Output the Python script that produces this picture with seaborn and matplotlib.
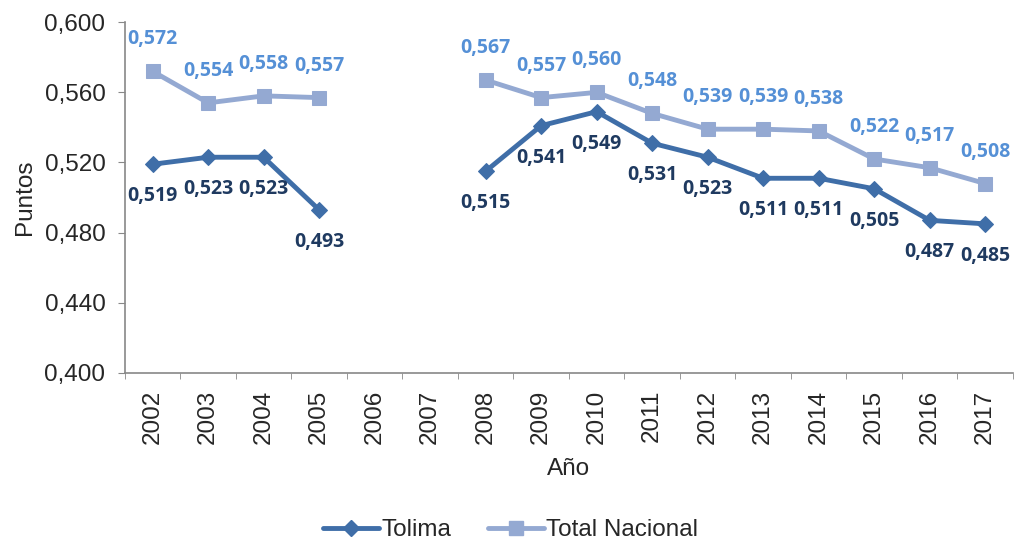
import numpy as np
import pandas as pd
import matplotlib
matplotlib.use("Agg")
import matplotlib.pyplot as plt
import seaborn as sns

# ── Data ──────────────────────────────────────────────
years = [str(y) for y in range(2002, 2018)]
tolima = [0.519, 0.523, 0.523, 0.493, np.nan, np.nan, 0.515, 0.541, 0.549,
          0.531, 0.523, 0.511, 0.511, 0.505, 0.487, 0.485]
nacional = [0.572, 0.554, 0.558, 0.557, np.nan, np.nan, 0.567, 0.557, 0.560,
            0.548, 0.539, 0.539, 0.538, 0.522, 0.517, 0.508]
series_names = ['Tolima', 'Total Nacional']

c_tol, c_nac = '#3F6EA8', '#94A9D2'
c_tol_lbl, c_nac_lbl = '#1F3A60', '#5590D6'

rows = []
for name, vals in zip(series_names, [tolima, nacional]):
    seg = 0
    for i, v in enumerate(vals):
        if np.isnan(v):
            seg += 1
            continue
        rows.append({'pos': i, 'val': v, 'serie': name, 'seg': f'{name}_{seg}'})
df = pd.DataFrame(rows)

sns.set_style('white')
plt.rcParams['font.family'] = ['Liberation Sans', 'DejaVu Sans']

fig = plt.figure(figsize=(10.15, 5.42), dpi=100)
ax = fig.add_axes([0.123, 0.312, 0.875, 0.647])

styles = {'Tolima': (c_tol, 'D', 8.5), 'Total Nacional': (c_nac, 's', 9.5)}
for name in series_names:
    sub = df[df['serie'] == name]
    col, mk, ms = styles[name]
    sns.lineplot(data=sub, x='pos', y='val', units='seg', estimator=None,
                 color=col, marker=mk, markersize=ms, markeredgecolor=col,
                 linewidth=3.5, ax=ax, legend=False)

for i, v in enumerate(nacional):
    if not np.isnan(v):
        ax.annotate(f'{v:.3f}'.replace('.', ','), (i, v), xytext=(0, 23),
                    textcoords='offset points', ha='center', va='center',
                    color=c_nac_lbl, fontsize=14, fontweight='bold',
                    family='Open Sans')
for i, v in enumerate(tolima):
    if not np.isnan(v):
        ax.annotate(f'{v:.3f}'.replace('.', ','), (i, v), xytext=(0, -23),
                    textcoords='offset points', ha='center', va='center',
                    color=c_tol_lbl, fontsize=14, fontweight='bold',
                    family='Open Sans')

ax.set_xlim(-0.5, len(years) - 0.5)
ax.set_ylim(0.4, 0.6)
yt = np.arange(0.4, 0.6001, 0.04)
ax.set_yticks(yt)
ax.set_yticklabels([f'{t:.3f}'.replace('.', ',') for t in yt])
ax.set_xticks(range(len(years)))
ax.set_xticklabels(years, rotation=90)
ax.set_xticks(np.arange(-0.5, len(years), 1), minor=True)
ax.tick_params(axis='x', which='major', bottom=False, length=0, labelsize=17.5, pad=12)
ax.tick_params(axis='x', which='minor', bottom=True, length=4, color='#888888', direction='out')
ax.tick_params(axis='y', left=True, length=5, color='#888888', direction='out',
               labelsize=17.5, pad=9)

for s in ['top', 'right']:
    ax.spines[s].set_visible(False)
for s in ['left', 'bottom']:
    ax.spines[s].set_color('#888888')
    ax.spines[s].set_linewidth(1.2)

ax.set_xlabel('Año', fontsize=17.5, labelpad=10)
ax.set_ylabel('Puntos', fontsize=17.5, labelpad=6)

handles = [plt.Line2D([], [], color=c_tol, marker='D', markersize=8.5, linewidth=3.5),
           plt.Line2D([], [], color=c_nac, marker='s', markersize=9.5, linewidth=3.5)]
fig.legend(handles, series_names, loc='center', bbox_to_anchor=(0.503, 0.022),
           ncol=2, frameon=False, fontsize=17.5, handlelength=2.3, handletextpad=0.1,
           columnspacing=1.5, borderpad=0)

fig.savefig('out.png', dpi=100)
